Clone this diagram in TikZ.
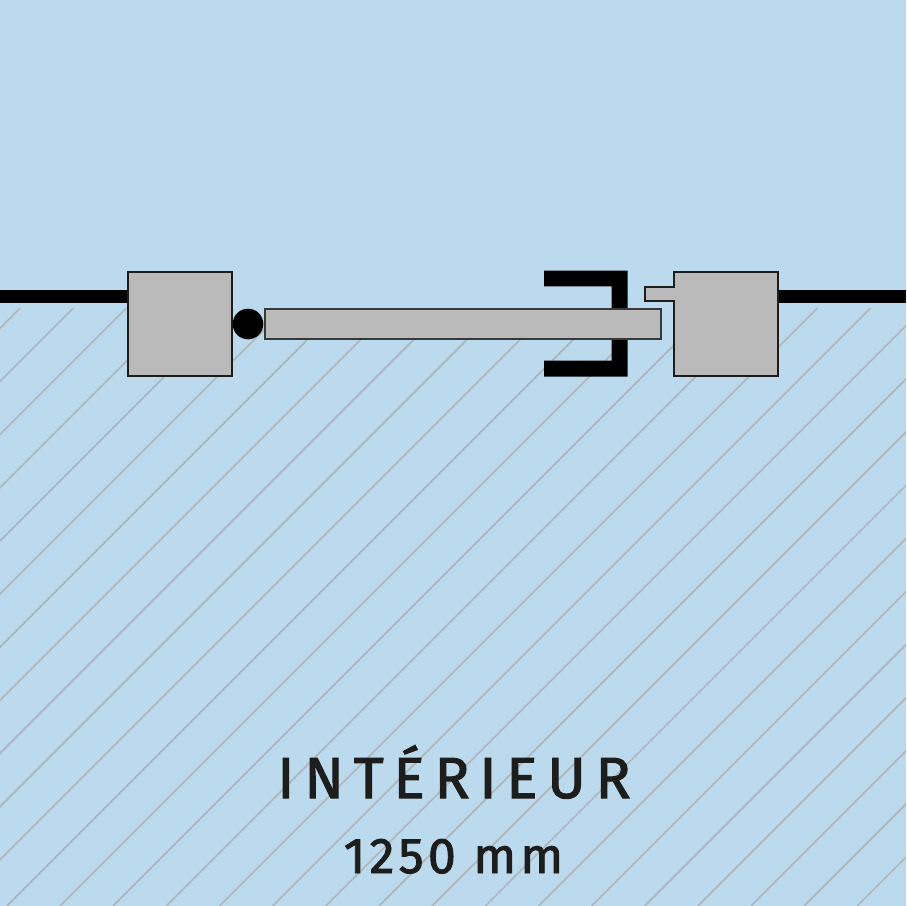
\documentclass[tikz,border=0pt]{standalone}
\usepackage{fontspec}
\newfontfamily\titlefont[LetterSpace=17,FakeBold=1.8]{Fira Sans}
\newfontfamily\subfont[LetterSpace=8.5,FakeBold=1.8]{Fira Sans}
\definecolor{bgblue}{HTML}{BCDAEE}
\definecolor{partgray}{HTML}{BABABB}
\definecolor{hatchgray}{HTML}{AEB6BC}
\definecolor{inkblack}{HTML}{1D1D1B}
\tikzset{
  part/.style={fill=partgray,draw=inkblack,line width=2pt,miter limit=10},
  panel/.style={fill=partgray,draw=black!70!partgray,line width=2pt},
  hatchline/.style={draw=hatchgray,line width=1.7pt},
  wall/.style={fill=black,draw=none},
  label/.style={inner sep=0pt,text=inkblack,anchor=base}
}
\begin{document}
\begin{tikzpicture}[x=1pt,y=-1pt]
\useasboundingbox (0,0) rectangle (906,906);
\fill[bgblue] (0,0) rectangle (906,906);
\begin{scope}
\clip (0,308) rectangle (906,906);
\foreach \i in {0,...,28} {
  \pgfmathsetmacro{\s}{328.2+53.15*\i}
  \draw[hatchline] (\s-308,308) -- (\s-906,906);
}
\end{scope}
\fill[wall] (0,290.2) rectangle (128,302.8);
\fill[wall] (778,290.2) rectangle (906,302.8);
\draw[part] (127.5,271.5) rectangle (232,376);
\fill[black] (248,324) circle (15.3);
\fill[black] (544,270.5) -- (627.5,270.5) -- (627.5,376.5) -- (544,376.5) -- (544,360.5) -- (611.5,360.5) -- (611.5,286.3) -- (544,286.3) -- cycle;
\draw[panel] (264.5,309.3) rectangle (661,338.7);
\draw[part] (673.5,286.5) -- (644.5,286.5) -- (644.5,301) -- (673.5,301) -- (673.5,376) -- (777.7,376) -- (777.7,271.5) -- (673.5,271.5) -- cycle;
\node[label,font=\titlefont\fontsize{58}{58}\selectfont] (title) at (454,798) {INTÉRIEUR};
\node[label,font=\subfont\fontsize{50}{50}\selectfont] (size) at (453.5,873) {1250 mm};
\end{tikzpicture}
\end{document}
